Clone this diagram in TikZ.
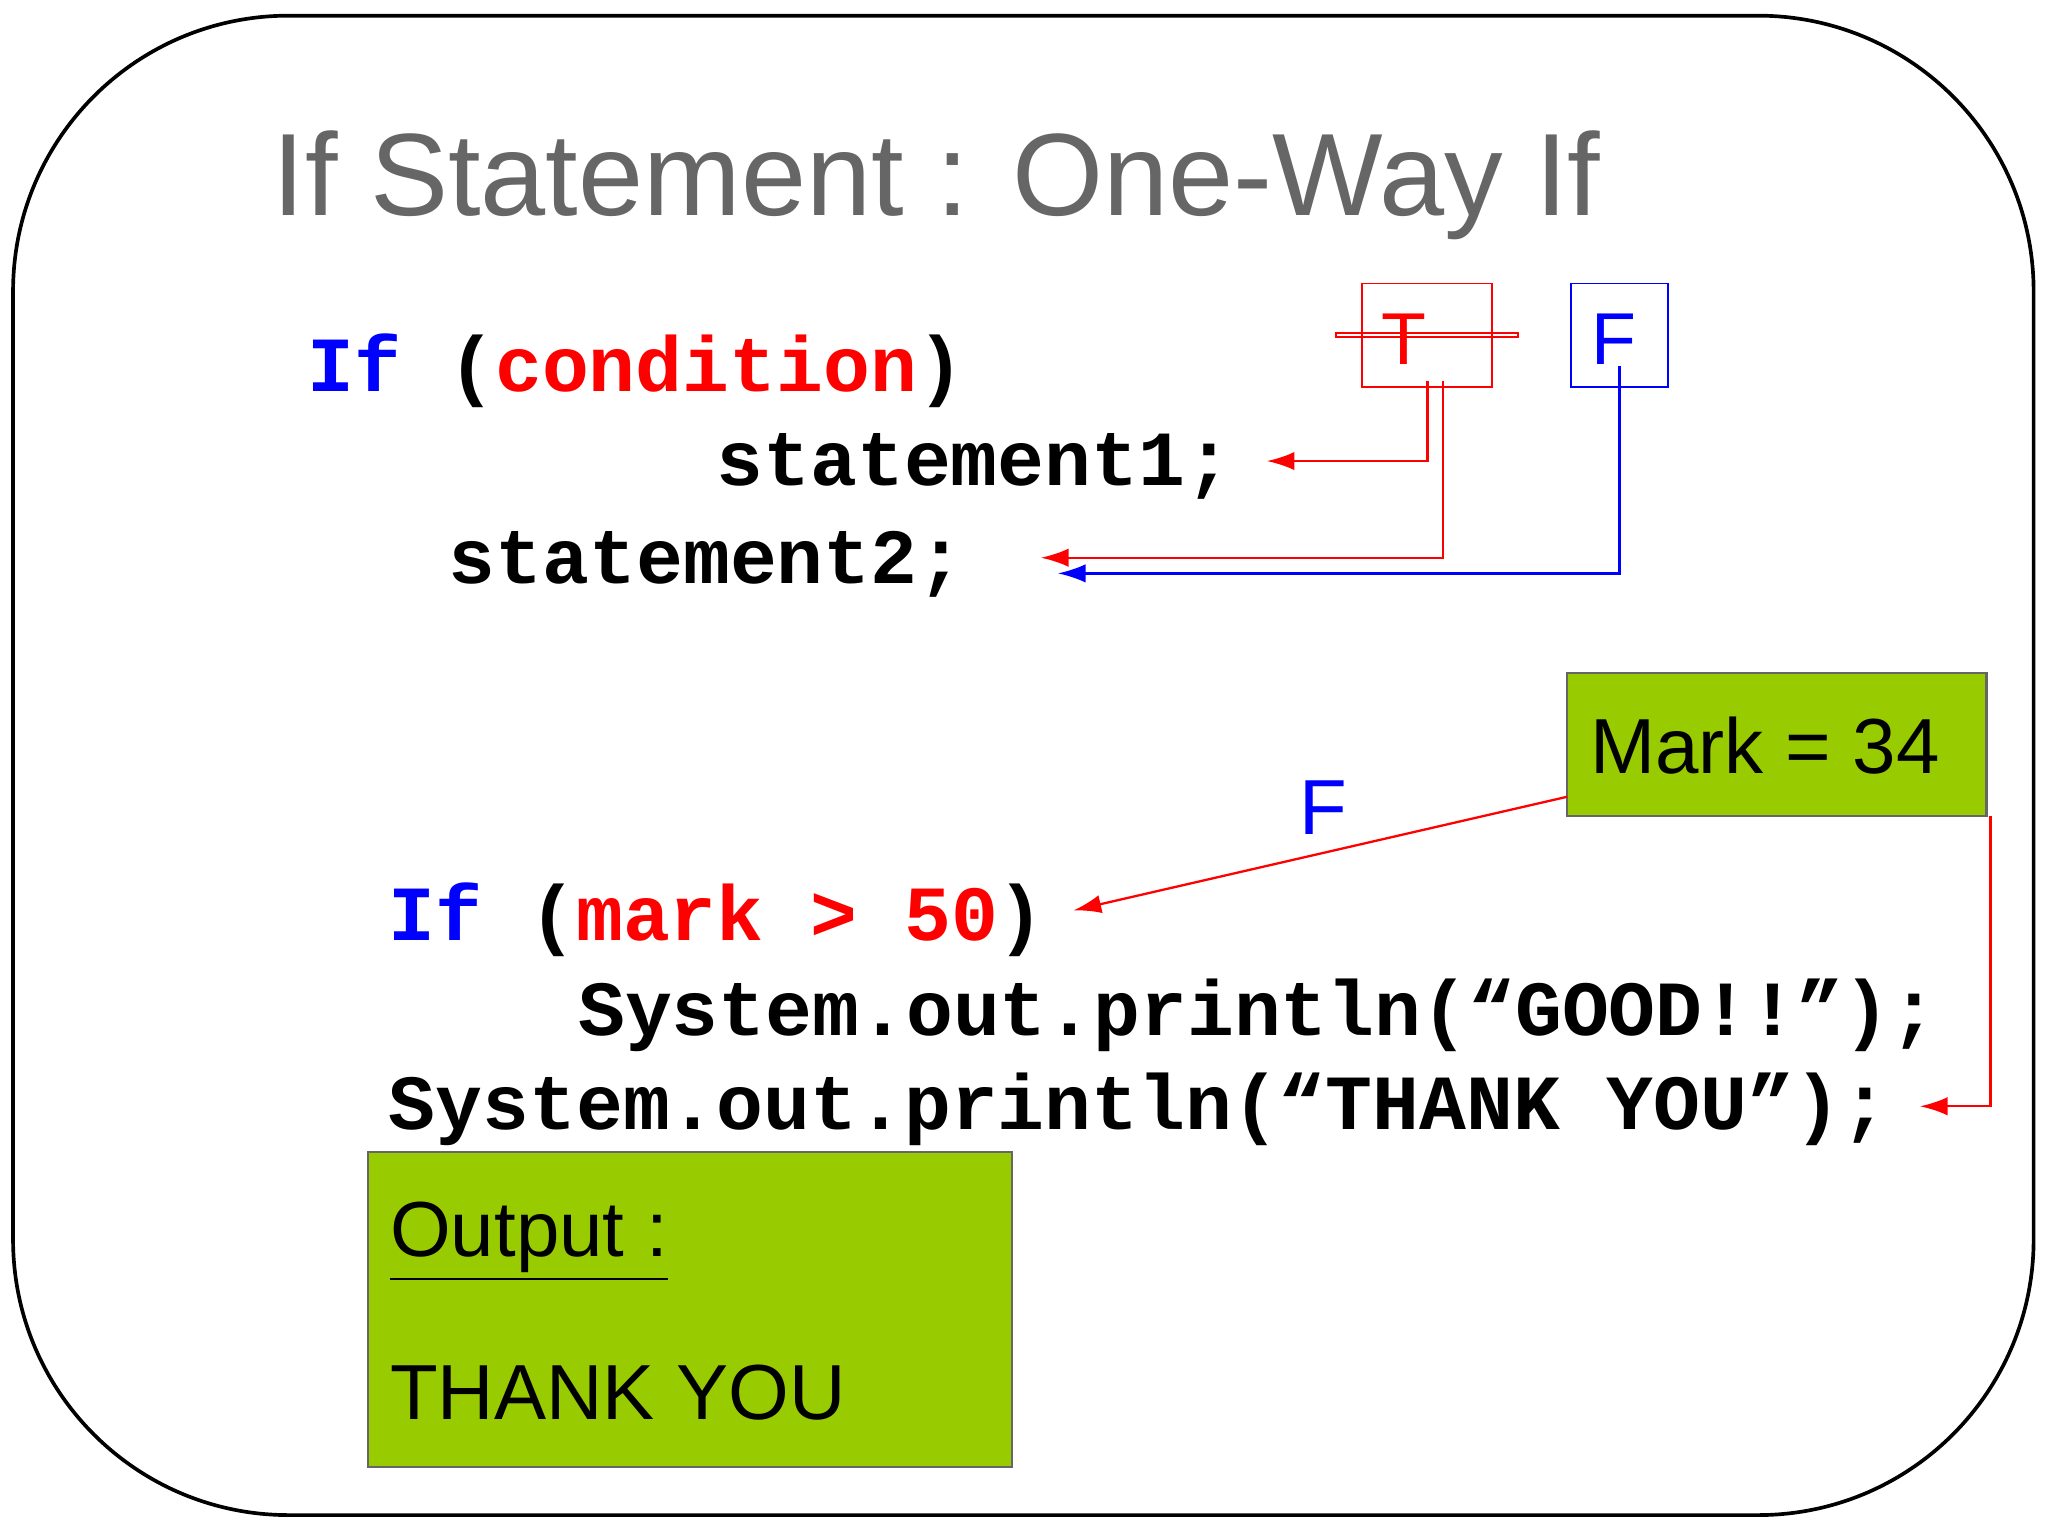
\documentclass[tikz,border=0pt]{standalone}
\usepackage{fontspec}
\setmainfont{Liberation Sans}
\newfontfamily\codefont{Liberation Mono}
\usetikzlibrary{arrows.meta}
\definecolor{olive}{HTML}{99CC00}
\definecolor{titlegray}{HTML}{666666}
\tikzset{
  code/.style={anchor=base west,inner sep=0pt,font=\codefont\bfseries\fontsize{17pt}{20pt}\selectfont},
  txt/.style={anchor=base west,inner sep=0pt,font=\fontsize{17pt}{20pt}\selectfont},
  conn/.style={-{Latex[length=6pt,width=4pt]},line width=0.5pt},
  greenbox/.style={draw=black!60,fill=olive,line width=0.5pt}
}
\begin{document}
\begin{tikzpicture}[x=0.01cm,y=-0.01cm]
\useasboundingbox (0,0) rectangle (1568,1176);
\draw[line width=0.8pt,rounded corners=60pt] (10,12) rectangle (1557,1160);
\node[anchor=base west,inner sep=0pt,text=titlegray,font=\fontsize{25.5pt}{30pt}\selectfont] (title) at (208,165) {If Statement : One-Way If};
\node[code] (if1) at (235,300) {\textcolor{blue}{If} (\textcolor{red}{condition})};
\node[code] (s1) at (548,372) {statement1;};
\node[code] (s2) at (343,447) {statement2;};
\node[draw=red,text=red,minimum width=99\pgflinewidth,font=\fontsize{16pt}{18pt}\selectfont,inner sep=0pt] (T) at (1092.5,256.5) {};
\draw[red,line width=0.4pt] (1043,217) rectangle (1142,296);
\node[text=red,font=\fontsize{16pt}{18pt}\selectfont,inner sep=0pt] (Tl) at (1075,260) {T};
\draw[blue,line width=0.4pt] (1203,217) rectangle (1277,296);
\node[text=blue,font=\fontsize{16pt}{18pt}\selectfont,inner sep=0pt] (Fl) at (1236,260) {F};
\coordinate (t1) at (1093,292);
\coordinate (t2) at (1105,292);
\coordinate (f1) at (1240,280);
\coordinate (e1) at (970,353);
\coordinate (e2) at (797,427);
\coordinate (e3) at (810,439);
\draw[conn,red] (t1) |- (e1);
\draw[conn,red] (t2) |- (e2);
\draw[conn,blue] (f1) |- (e3);
\draw[greenbox] (1200,515) rectangle (1521,625);
\node[txt] (mark) at (1217,592) {Mark = 34};
\node[text=blue,font=\fontsize{17pt}{20pt}\selectfont,inner sep=0pt] (F2) at (1013,618) {F};
\node[code] (if2) at (297,720) {\textcolor{blue}{If} (\textcolor{red}{mark > 50})};
\node[code] (p1) at (442,793) {System.out.println(“GOOD!!”);};
\node[code] (p2) at (297,865) {System.out.println(“THANK YOU”);};
\coordinate (m1) at (1200,610);
\coordinate (m2) at (822,697);
\coordinate (m3) at (1524,625);
\coordinate (m4) at (1470,847);
\draw[conn,red] (m1) -- (m2);
\draw[conn,red] (m3) |- (m4);
\draw[greenbox] (282,882) rectangle (775,1123);
\node[txt] (out) at (298,962) {\underline{Output :}};
\node[txt] (ty) at (298,1087) {THANK YOU};
\end{tikzpicture}
\end{document}
